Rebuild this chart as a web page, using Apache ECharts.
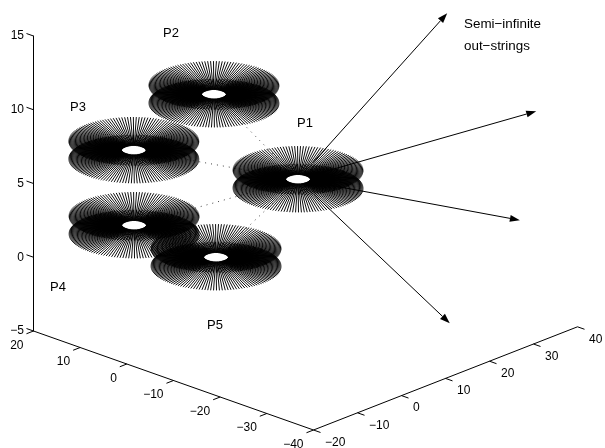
<!DOCTYPE html>
<html><head><meta charset="utf-8">
<style>html,body{margin:0;padding:0;background:#fff}#c{width:605px;height:448px}</style>
<script src="https://cdn.jsdelivr.net/npm/echarts@6/dist/echarts.min.js"></script>
</head><body><div id="c"></div>
<script>
// Axis tick values
const aTicks = [-20,-10,0,10,20,30,40];
const bTicks = [20,10,0,-10,-20,-30,-40];
const zTicks = [-5,0,5,10,15];
// Polygon centres [a, b, z] : P1..P5
const nodes = [[9.85,-8.54,5],[4.2,4.15,10],[1.0,18.3,5],[0.63,17.9,0],[-0.3,-0.54,0]];
// Dotted links from P1 to the others (node index)
const links = [1,2,3,4];
// Out-string tips [a, b, z]
const tips = [[31.6,-20,15],[33.8,-37,10],[30.3,-36.8,3],[27.3,-24.6,-5]];
// Disc description
const discRadius = [10.2];
const holeRadius = [1.9];
const discHalfHeight = [0.6];
const spokeCount = [140];

// Oblique 3-D view of the (a,b,z) box onto the 2-D axes
const KA=4.4, KB=4.667, VA=1.72/14.75, VB=1.65/14.75;
const project=(a,b,z)=>[KA*a-KB*b, z+VA*(a+20)+VB*(b-20)];
const hMin=project(-20,20,-5)[0], hMax=project(40,-40,-5)[0];

const chart=echarts.init(document.getElementById('c'),null,{renderer:'canvas'});
const FONT='Liberation Sans';
const stroke=(w,extra)=>Object.assign({stroke:'#000',fill:null,lineWidth:w},extra||{});

function seg(api,p,q,style){
  const A=api.coord(project(...p)),B=api.coord(project(...q));
  return {type:'line',shape:{x1:A[0],y1:A[1],x2:B[0],y2:B[1]},style};
}
const edgeData=[[-20,20,-5,-20,-40,-5],[-20,-40,-5,40,-40,-5]];
const tickData=[
  ...bTicks.map(b=>[-20,b,-5,-21.6,b,-5]),
  ...aTicks.map(a=>[a,-40,-5,a,-41.5,-5]),
  ...zTicks.map(z=>[-20,20,z,-20,21.5,z])
];
const labelData=[
  ...bTicks.map(b=>[-20,b,-5,0]),
  ...aTicks.map(a=>[a,-40,-5,1])
];
const fmt=v=>String(v).replace('-','\u2212');

const option={
  animation:false,
  backgroundColor:'#fff',
  grid:{left:33.5,top:36,width:544,height:295,containLabel:false},
  xAxis:{type:'value',min:hMin,max:hMax,show:false},
  yAxis:{type:'value',min:-5,max:15,interval:5,position:'left',
    axisLine:{show:true,onZero:false,lineStyle:{color:'#000',width:1}},
    axisTick:{show:false},splitLine:{show:false},
    axisLabel:{color:'#000',fontFamily:FONT,fontSize:12,margin:9.5,formatter:fmt}},
  graphic:[
    ['P1',305,123,13],['P2',171,33.5,13],['P3',78,107,13],['P4',58,287,13],['P5',215,325,13],
    ['Semi\u2212infinite',464,24,13.4,'left'],['out\u2212strings',464,46,13.4,'left']
  ].map(t=>({type:'text',x:t[1],y:t[2],z:50,style:{text:t[0],fontFamily:FONT,fontSize:t[3],fill:'#000',
    align:t[4]||'center',verticalAlign:'middle'}})),
  series:[
    {type:'custom',name:'edges',data:edgeData,z:2,renderItem:(p,api)=>{
      const d=[0,1,2,3,4,5].map(i=>api.value(i));
      return seg(api,d.slice(0,3),d.slice(3),stroke(1));
    }},
    {type:'custom',name:'ticks',data:tickData,z:2,renderItem:(p,api)=>{
      const d=[0,1,2,3,4,5].map(i=>api.value(i));
      return seg(api,d.slice(0,3),d.slice(3),stroke(1));
    }},
    {type:'custom',name:'tickLabels',data:labelData,z:3,renderItem:(p,api)=>{
      const pt=api.coord(project(api.value(0),api.value(1),api.value(2)));
      const isA=api.value(3)===1;
      const txt=fmt(isA?api.value(0):api.value(1));
      return {type:'text',x:pt[0]+(isA?11.5:-10),y:pt[1]+(isA?12.5:14.5),
        style:{text:txt,fontFamily:FONT,fontSize:12,fill:'#000',align:isA?'left':'right',verticalAlign:'middle'}};
    }},
    {type:'custom',name:'links',data:links.map(i=>nodes[i]),z:3,renderItem:(p,api)=>{
      const q=[api.value(0),api.value(1),api.value(2)],s=nodes[0];
      const at=f=>s.map((v,i)=>v+(q[i]-v)*f);
      return seg(api,at(0.2),at(0.8),stroke(1,{stroke:'#444',lineDash:[1,5]}));
    }},
    {type:'custom',name:'discs',data:nodes,z:4,renderItem:(p,api)=>{
      const [a,b,z]=[api.value(0),api.value(1),api.value(2)];
      const n=spokeCount[0],R=discRadius[0],r=holeRadius[0],H=discHalfHeight[0];
      const ch=[];
      for(let i=0;i<n;i++){
        const t=2*Math.PI*i/n,c=Math.cos(t),s=Math.sin(t);
        const inner=[a+r*c,b+r*s,z];
        ch.push(seg(api,inner,[a+R*c,b+R*s,z+H],stroke(0.95)));
        ch.push(seg(api,inner,[a+R*c,b+R*s,z-H],stroke(0.95)));
      }
      return {type:'group',children:ch};
    }},
    {type:'custom',name:'strings',data:tips,z:5,renderItem:(p,api)=>{
      const q=[api.value(0),api.value(1),api.value(2)],s=nodes[0];
      const S0=api.coord(project(...s)),E=api.coord(project(...q));
      const dx=E[0]-S0[0],dy=E[1]-S0[1],L=Math.hypot(dx,dy),ux=dx/L,uy=dy/L;
      const S=[S0[0]+ux*22,S0[1]+uy*22];
      const back=[E[0]-ux*10,E[1]-uy*10];
      return {type:'group',children:[
        {type:'line',shape:{x1:S[0],y1:S[1],x2:back[0],y2:back[1]},style:stroke(1)},
        {type:'polygon',shape:{points:[E,[back[0]-uy*3.5,back[1]+ux*3.5],[back[0]+uy*3.5,back[1]-ux*3.5]]},style:{fill:'#000',stroke:null}}
      ]};
    }}
  ]
};
chart.setOption(option);
</script></body></html>
